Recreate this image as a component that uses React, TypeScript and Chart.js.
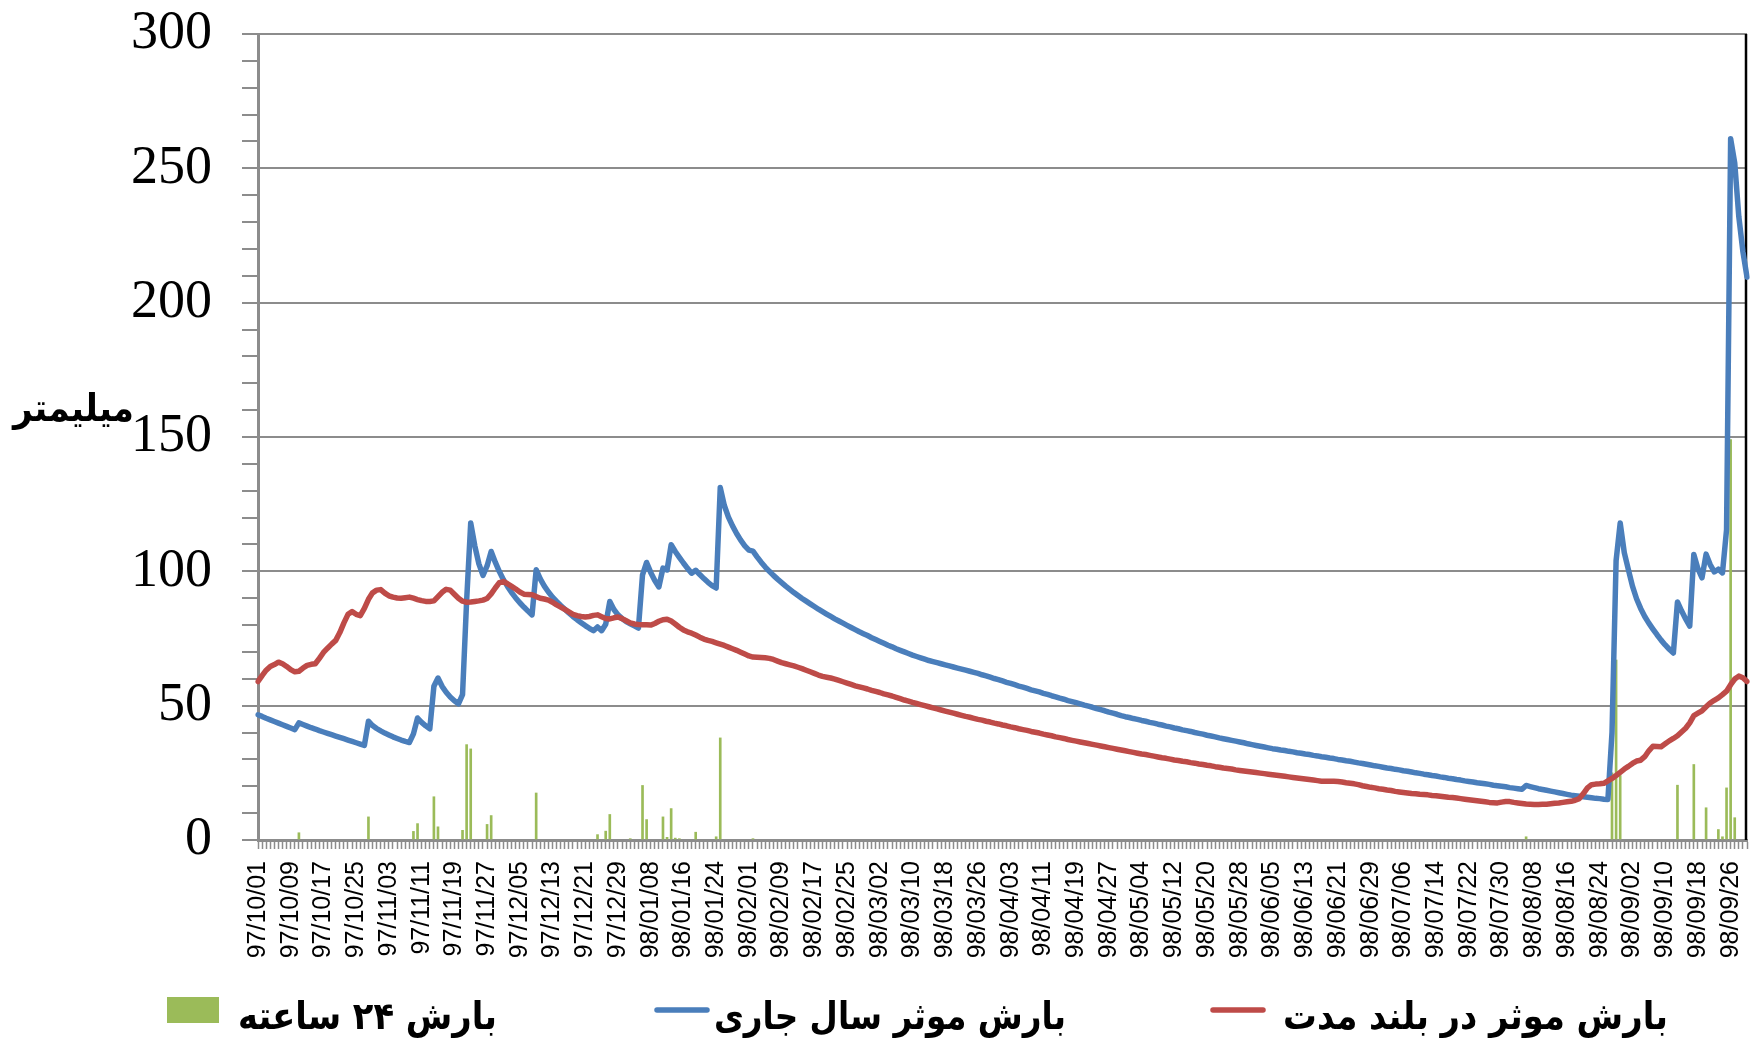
import React, { useEffect, useRef } from "react";
import { Chart, registerables } from "chart.js";

Chart.register(...registerables);

// Persian calendar months covered by the water year: [year, month, days]
const MONTHS: [number, number, number][] = [
  [97, 10, 30], [97, 11, 30], [97, 12, 29],
  [98, 1, 31], [98, 2, 31], [98, 3, 31], [98, 4, 31], [98, 5, 31], [98, 6, 31],
  [98, 7, 30], [98, 8, 30], [98, 9, 30],
];
const pad2 = (n: number) => String(n).padStart(2, "0");
const DATES: string[] = MONTHS.flatMap(([y, m, n]) =>
  Array.from({ length: n }, (_, d) => `${y}/${pad2(m)}/${pad2(d + 1)}`)
);
const LABEL_EVERY = 8;

const Y_TICKS = [0, 10, 20, 30, 40, 50, 60, 70, 80, 90, 100, 110, 120, 130, 140, 150, 160, 170, 180, 190, 200, 210, 220, 230, 240, 250, 260, 270, 280, 290, 300];
const Y_LABEL_STEP = 50;

const Y_TITLE = "میلیمتر";
const NAME_RAIN = "بارش ۲۴ ساعته";
const NAME_CURRENT = "بارش موثر سال جاری";
const NAME_LONGTERM = "بارش موثر در بلند مدت";

// 24-hour rainfall (mm)
const RAIN_DATES = [
  "97/10/11", "97/10/28", "97/11/09", "97/11/10", "97/11/14", "97/11/15", "97/11/21", "97/11/22", "97/11/23",
  "97/11/27", "97/11/28", "97/12/09", "97/12/24", "97/12/26", "97/12/27", "98/01/03", "98/01/06", "98/01/07",
  "98/01/11", "98/01/12", "98/01/13", "98/01/14", "98/01/15", "98/01/19", "98/01/24", "98/01/25", "98/02/02",
  "98/08/06", "98/08/27", "98/08/28", "98/08/29", "98/09/13", "98/09/17", "98/09/20", "98/09/23", "98/09/24",
  "98/09/25", "98/09/26", "98/09/27",
];
const RAIN_MM = [
  2.7, 8.6, 3.2, 6.1, 16.1, 4.9, 3.6, 35.5, 33.9,
  5.8, 9.1, 17.5, 2.0, 3.3, 9.5, 0.5, 20.3, 7.6,
  8.6, 1.0, 11.7, 0.7, 0.5, 2.9, 1.2, 38.0, 0.5,
  1.2, 25.0, 67.0, 24.0, 20.4, 28.1, 12.0, 3.9, 1.2,
  19.4, 149.0, 8.3,
];

// effective rainfall, current year (mm)
const CURRENT = [
  46.6, 46.0, 45.3, 44.7, 44.1, 43.5, 42.9, 42.3, 41.7, 41.1,
  43.6, 43.0, 42.4, 41.8, 41.3, 40.7, 40.2, 39.7, 39.2, 38.7,
  38.2, 37.7, 37.2, 36.7, 36.2, 35.7, 35.2, 44.2, 42.6, 41.5,
  40.6, 39.8, 39.1, 38.4, 37.8, 37.2, 36.7, 36.3, 39.5, 45.4,
  43.8, 42.5, 41.4, 57.2, 60.3, 57.2, 55.0, 53.2, 51.8, 50.7,
  54.1, 89.0, 118.0, 109.5, 102.8, 98.5, 102.0, 107.4, 103.4, 99.9,
  96.9, 94.4, 92.1, 90.1, 88.3, 86.7, 85.2, 83.8, 100.6, 97.2,
  94.5, 92.3, 90.4, 88.8, 87.3, 85.9, 84.5, 83.2, 82.0, 80.9,
  79.8, 78.8, 77.9, 79.3, 77.9, 80.3, 88.8, 85.8, 83.8, 82.4,
  81.3, 80.5, 79.7, 78.9, 98.7, 103.3, 99.6, 96.6, 94.2, 101.2,
  100.5, 109.9, 107.4, 105.2, 103.1, 101.1, 99.3, 100.4, 98.8, 97.3,
  95.9, 94.7, 93.8, 131.2, 124.5, 120.2, 116.9, 114.1, 111.6, 109.5,
  107.9, 107.5, 105.4, 103.4, 101.6, 100.0, 98.5, 97.1, 95.8, 94.5,
  93.3, 92.1, 91.0, 89.9, 88.9, 87.9, 86.9, 85.9, 85.0, 84.1,
  83.2, 82.3, 81.5, 80.7, 79.9, 79.1, 78.3, 77.5, 76.8, 76.1,
  75.3, 74.6, 73.9, 73.2, 72.5, 71.9, 71.2, 70.6, 70.0, 69.4,
  68.8, 68.3, 67.8, 67.3, 66.8, 66.4, 66.0, 65.6, 65.2, 64.8,
  64.4, 64.0, 63.6, 63.2, 62.8, 62.4, 62.0, 61.5, 61.1, 60.6,
  60.1, 59.7, 59.2, 58.7, 58.3, 57.8, 57.3, 56.9, 56.4, 55.9,
  55.5, 55.1, 54.6, 54.2, 53.7, 53.3, 52.8, 52.4, 51.9, 51.5,
  51.1, 50.7, 50.2, 49.8, 49.4, 48.9, 48.5, 48.1, 47.6, 47.2,
  46.8, 46.3, 45.9, 45.6, 45.2, 44.9, 44.5, 44.2, 43.8, 43.5,
  43.1, 42.8, 42.4, 42.1, 41.7, 41.4, 41.0, 40.7, 40.4, 40.0,
  39.7, 39.4, 39.0, 38.7, 38.4, 38.0, 37.7, 37.4, 37.1, 36.8,
  36.5, 36.2, 35.8, 35.5, 35.2, 34.9, 34.6, 34.3, 34.0, 33.8,
  33.5, 33.3, 33.0, 32.8, 32.5, 32.3, 32.0, 31.8, 31.5, 31.3,
  31.0, 30.8, 30.5, 30.3, 30.0, 29.8, 29.5, 29.3, 29.0, 28.7,
  28.5, 28.2, 27.9, 27.6, 27.4, 27.1, 26.8, 26.6, 26.3, 26.1,
  25.8, 25.6, 25.3, 25.0, 24.8, 24.5, 24.3, 24.0, 23.8, 23.5,
  23.3, 23.0, 22.8, 22.5, 22.3, 22.0, 21.8, 21.6, 21.3, 21.1,
  20.9, 20.7, 20.4, 20.2, 20.0, 19.8, 19.5, 19.3, 19.1, 18.9,
  20.3, 19.9, 19.5, 19.1, 18.8, 18.5, 18.2, 17.9, 17.6, 17.3,
  17.0, 16.7, 16.5, 16.3, 16.1, 15.9, 15.7, 15.5, 15.4, 15.2,
  15.1, 40.0, 104.0, 118.0, 107.0, 100.6, 94.5, 89.8, 86.2, 83.2,
  80.7, 78.5, 76.4, 74.4, 72.6, 71.0, 69.6, 88.6, 85.3, 82.3,
  79.6, 106.3, 101.0, 97.6, 106.4, 102.5, 99.8, 100.8, 99.4, 115.5,
  261.0, 252.0, 232.0, 219.0, 209.5,
];

// effective rainfall, long-term average (mm)
const LONGTERM = [
  59.0, 61.2, 63.2, 64.6, 65.3, 66.2, 65.6, 64.6, 63.4, 62.6,
  62.8, 64.0, 65.0, 65.4, 65.6, 67.6, 69.8, 71.4, 72.9, 74.3,
  77.2, 80.8, 84.0, 85.0, 84.0, 83.5, 86.2, 89.6, 92.0, 93.0,
  93.2, 91.9, 90.9, 90.4, 90.1, 90.0, 90.2, 90.4, 90.0, 89.5,
  89.1, 88.8, 88.8, 89.0, 90.6, 92.2, 93.3, 93.0, 91.5, 90.0,
  88.9, 88.5, 88.6, 88.8, 89.0, 89.3, 89.9, 91.6, 93.8, 95.8,
  96.2, 95.4, 94.4, 93.4, 92.3, 91.5, 91.4, 91.3, 90.6, 90.0,
  89.7, 89.3, 88.5, 87.5, 86.7, 85.8, 84.9, 84.0, 83.5, 83.2,
  83.0, 83.2, 83.6, 83.8, 83.1, 82.4, 82.3, 82.7, 83.0, 82.4,
  81.6, 80.8, 80.4, 80.2, 80.1, 80.1, 80.0, 80.6, 81.4, 82.0,
  82.2, 81.5, 80.4, 79.2, 78.2, 77.5, 77.0, 76.3, 75.5, 74.8,
  74.3, 73.9, 73.4, 72.9, 72.4, 71.8, 71.2, 70.6, 69.9, 69.2,
  68.5, 68.1, 68.0, 67.9, 67.8, 67.6, 67.2, 66.6, 66.0, 65.6,
  65.2, 64.8, 64.3, 63.8, 63.2, 62.6, 62.0, 61.4, 60.9, 60.6,
  60.3, 59.9, 59.4, 58.9, 58.4, 57.9, 57.4, 57.0, 56.6, 56.2,
  55.7, 55.3, 54.9, 54.4, 54.0, 53.6, 53.1, 52.6, 52.1, 51.7,
  51.2, 50.8, 50.4, 50.0, 49.6, 49.2, 48.8, 48.4, 48.0, 47.6,
  47.2, 46.8, 46.4, 46.0, 45.7, 45.3, 44.9, 44.6, 44.2, 43.9,
  43.5, 43.2, 42.8, 42.5, 42.1, 41.8, 41.4, 41.1, 40.8, 40.4,
  40.1, 39.8, 39.4, 39.1, 38.8, 38.4, 38.1, 37.8, 37.4, 37.1,
  36.8, 36.5, 36.2, 35.9, 35.6, 35.3, 35.0, 34.7, 34.4, 34.1,
  33.8, 33.5, 33.2, 32.9, 32.6, 32.3, 32.0, 31.8, 31.5, 31.2,
  30.9, 30.6, 30.4, 30.1, 29.8, 29.6, 29.3, 29.1, 28.8, 28.6,
  28.3, 28.1, 27.8, 27.6, 27.3, 27.1, 26.8, 26.6, 26.4, 26.1,
  25.9, 25.7, 25.5, 25.3, 25.1, 24.9, 24.7, 24.5, 24.3, 24.1,
  23.9, 23.7, 23.5, 23.3, 23.1, 22.9, 22.7, 22.5, 22.3, 22.1,
  21.9, 21.9, 21.9, 21.9, 21.8, 21.6, 21.3, 21.1, 20.9, 20.6,
  20.2, 19.9, 19.6, 19.4, 19.1, 18.9, 18.6, 18.4, 18.1, 17.9,
  17.7, 17.5, 17.3, 17.2, 17.0, 16.9, 16.8, 16.6, 16.5, 16.3,
  16.1, 15.9, 15.8, 15.6, 15.4, 15.2, 15.0, 14.8, 14.6, 14.4,
  14.2, 14.0, 13.9, 13.8, 14.1, 14.3, 14.3, 14.0, 13.8, 13.6,
  13.4, 13.3, 13.2, 13.2, 13.3, 13.3, 13.5, 13.7, 13.8, 14.0,
  14.2, 14.4, 14.8, 15.4, 17.3, 19.4, 20.6, 20.8, 20.9, 21.1,
  22.0, 22.9, 24.0, 25.2, 26.4, 27.4, 28.5, 29.4, 29.7, 31.0,
  33.2, 34.9, 34.8, 34.7, 35.8, 36.9, 37.8, 38.8, 40.2, 41.6,
  43.6, 46.3, 47.2, 48.1, 49.6, 51.0, 52.0, 52.9, 54.1, 55.4,
  57.8, 59.9, 61.0, 60.4, 59.0,
];

const GREEN = "#9BBB59";
const BLUE = "#4A7EBB";
const RED = "#BE4B48";
const AXIS_GRAY = "#8c8c8c";
const PERSIAN_FONT = '"DejaVu Sans", "Noto Sans", sans-serif';
const LINE_WIDTH = 5.5;

const rainSeries = DATES.map((d) => {
  const k = RAIN_DATES.indexOf(d);
  return k >= 0 ? RAIN_MM[k] : null;
});

function drawFitted(ctx: CanvasRenderingContext2D, text: string, right: number, baseline: number, width: number, font: string) {
  ctx.save();
  ctx.font = font;
  ctx.direction = "rtl";
  const w = ctx.measureText(text).width || 1;
  ctx.translate(right, baseline);
  ctx.scale(width / w, 1);
  ctx.textAlign = "right";
  ctx.textBaseline = "alphabetic";
  ctx.fillStyle = "#000";
  ctx.fillText(text, 0, 0);
  ctx.restore();
}

const extrasPlugin = {
  id: "extras",
  beforeDatasetsDraw(chart: any) {
    const { ctx, chartArea: a } = chart;
    ctx.save();
    ctx.strokeStyle = "#000";
    ctx.lineWidth = 2.5;
    ctx.beginPath();
    ctx.moveTo(a.right - 1, a.top);
    ctx.lineTo(a.right - 1, a.bottom);
    ctx.stroke();
    ctx.restore();
  },
  afterDraw(chart: any) {
    const ctx: CanvasRenderingContext2D = chart.ctx;
    const font = `bold 38px ${PERSIAN_FONT}`;
    // axis title
    drawFitted(ctx, Y_TITLE, 134, 421, 121, font);
    // legend
    ctx.save();
    ctx.fillStyle = GREEN;
    ctx.fillRect(167, 997, 52, 26);
    ctx.lineCap = "round";
    ctx.lineWidth = LINE_WIDTH;
    ctx.strokeStyle = BLUE;
    ctx.beginPath();
    ctx.moveTo(657, 1010);
    ctx.lineTo(707, 1010);
    ctx.stroke();
    ctx.strokeStyle = RED;
    ctx.beginPath();
    ctx.moveTo(1213, 1010);
    ctx.lineTo(1263, 1010);
    ctx.stroke();
    ctx.restore();
    drawFitted(ctx, NAME_RAIN, 497, 1029, 259, font);
    drawFitted(ctx, NAME_CURRENT, 1066, 1029, 352, font);
    drawFitted(ctx, NAME_LONGTERM, 1668, 1029, 385, font);
  },
};

export default function App() {
  const ref = useRef<HTMLCanvasElement | null>(null);

  useEffect(() => {
    document.body.style.margin = "0";
    document.body.style.overflow = "hidden";
    const canvas = ref.current;
    if (!canvas) return;
    const chart = new Chart(canvas, {
      type: "line",
      data: {
        labels: DATES,
        datasets: [
          {
            type: "bar",
            label: NAME_RAIN,
            data: rainSeries,
            backgroundColor: GREEN,
            barThickness: 2,
            order: 3,
          } as any,
          {
            type: "line",
            label: NAME_CURRENT,
            data: CURRENT,
            borderColor: BLUE,
            backgroundColor: BLUE,
            borderWidth: LINE_WIDTH,
            pointRadius: 0,
            tension: 0,
            borderJoinStyle: "round",
            borderCapStyle: "round",
            order: 2,
          },
          {
            type: "line",
            label: NAME_LONGTERM,
            data: LONGTERM,
            borderColor: RED,
            backgroundColor: RED,
            borderWidth: LINE_WIDTH,
            pointRadius: 0,
            tension: 0,
            borderJoinStyle: "round",
            borderCapStyle: "round",
            order: 1,
          },
        ],
      },
      options: {
        responsive: false,
        animation: false,
        devicePixelRatio: 1,
        events: [],
        layout: { padding: { top: 34, right: 3, left: 0, bottom: 0 } },
        plugins: { legend: { display: false }, tooltip: { enabled: false } },
        scales: {
          x: {
            type: "category",
            offset: false,
            grid: {
              offset: false,
              drawOnChartArea: false,
              drawTicks: true,
              tickLength: 9,
              tickColor: AXIS_GRAY,
              tickWidth: 1.5,
            },
            border: { display: true, color: AXIS_GRAY, width: 3 },
            ticks: {
              autoSkip: false,
              minRotation: 90,
              maxRotation: 90,
              padding: 12,
              color: "#000",
              font: { family: '"Liberation Sans", Arial, sans-serif', size: 25 },
              callback: (_v: any, i: number) => (i % LABEL_EVERY === 0 ? DATES[i] : ""),
            },
            afterFit: (s: any) => {
              s.height = 207;
              s.paddingLeft = 0;
              s.paddingRight = 0;
            },
          },
          y: {
            type: "linear",
            min: 0,
            max: 300,
            afterBuildTicks: (s: any) => {
              s.ticks = Y_TICKS.map((v) => ({ value: v }));
            },
            ticks: {
              autoSkip: false,
              padding: 30,
              color: "#000",
              font: { family: '"Liberation Serif", "Times New Roman", serif', size: 54 },
              callback: (v: any) => (Number(v) % Y_LABEL_STEP === 0 ? String(v) : ""),
            },
            grid: {
              color: (c: any) => (c.tick && c.tick.value % Y_LABEL_STEP === 0 ? AXIS_GRAY : "rgba(0,0,0,0)"),
              lineWidth: 2,
              tickLength: 16,
              tickColor: AXIS_GRAY,
              tickWidth: 2,
            },
            border: { display: true, color: AXIS_GRAY, width: 3 },
            afterFit: (s: any) => {
              s.width = 258;
              s.paddingTop = 0;
              s.paddingBottom = 0;
            },
          },
        },
      },
      plugins: [extrasPlugin],
    });
    return () => chart.destroy();
  }, []);

  return (
    <div style={{ width: 1750, height: 1047, position: "relative", background: "#fff" }}>
      <canvas ref={ref} width={1750} height={1047} style={{ display: "block" }} />
    </div>
  );
}
